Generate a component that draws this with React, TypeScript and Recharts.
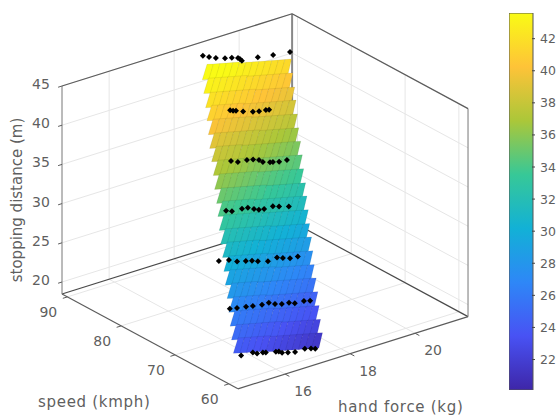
import React from 'react';
import { BarChart, Bar, YAxis, XAxis, ScatterChart, Scatter, ReferenceLine } from 'recharts';

const speedTicks = [60, 70, 80, 90];
const forceTicks = [16, 18, 20];
const zTicks = [20, 25, 30, 35, 40, 45];
const colorbarTicks = [22, 24, 26, 28, 30, 32, 34, 36, 38, 40, 42];
const colorbarRange = [20.1, 43.6];

// box limits
const speedMin = 58.3;
const speedMax = 91;
const forceMin = 14.55;
const forceMax = 21.63;
const zMin = 18.47;
const zMax = 45;

const parula = ['#3e26a8', '#4852f4', '#2e87f7', '#12b1d6', '#37c897', '#abc739', '#fec338', '#f9fb15'];

// surface rows, bottom to top
const rowSpeeds = [61.4, 62.9, 64.3, 65.7, 67.1, 68.6, 70, 71.4, 72.9, 74.3, 75.7, 77.1, 78.6, 80, 81.4, 82.9, 84.3, 85.7, 87.1, 88.6, 90];
const rowForceStart = [15.02, 15.21, 15.4, 15.59, 15.77, 15.96, 16.15, 16.34, 16.53, 16.72, 16.91, 17.1, 17.29, 17.48, 17.66, 17.85, 18.04, 18.23, 18.42, 18.61, 18.8];
const colForceOffset = [0, 0.2, 0.4, 0.6, 0.8, 1, 1.2, 1.4, 1.6, 1.8, 2, 2.2, 2.4];
const surfaceZ = [
  [23.2, 23.0, 22.8, 22.6, 22.4, 22.1, 21.9, 21.7, 21.5, 21.3, 21.1, 20.9, 20.7],
  [24.1, 23.9, 23.7, 23.5, 23.3, 23.1, 22.9, 22.6, 22.4, 22.2, 22.0, 21.8, 21.6],
  [25.1, 24.9, 24.7, 24.5, 24.3, 24.1, 23.8, 23.6, 23.4, 23.2, 23.0, 22.8, 22.6],
  [26.1, 25.9, 25.7, 25.5, 25.3, 25.0, 24.8, 24.6, 24.4, 24.2, 24.0, 23.8, 23.6],
  [27.1, 26.9, 26.7, 26.5, 26.2, 26.0, 25.8, 25.6, 25.4, 25.2, 25.0, 24.8, 24.6],
  [28.0, 27.8, 27.6, 27.4, 27.2, 27.0, 26.8, 26.5, 26.3, 26.1, 25.9, 25.7, 25.5],
  [29.0, 28.8, 28.6, 28.4, 28.2, 28.0, 27.7, 27.5, 27.3, 27.1, 26.9, 26.7, 26.5],
  [30.0, 29.8, 29.6, 29.4, 29.2, 28.9, 28.7, 28.5, 28.3, 28.1, 27.9, 27.7, 27.5],
  [30.9, 30.7, 30.5, 30.3, 30.1, 29.9, 29.7, 29.4, 29.2, 29.0, 28.8, 28.6, 28.4],
  [31.9, 31.7, 31.5, 31.3, 31.1, 30.9, 30.6, 30.4, 30.2, 30.0, 29.8, 29.6, 29.4],
  [32.9, 32.7, 32.5, 32.3, 32.1, 31.8, 31.6, 31.4, 31.2, 31.0, 30.8, 30.6, 30.4],
  [33.8, 33.6, 33.4, 33.2, 33.0, 32.8, 32.6, 32.3, 32.1, 31.9, 31.7, 31.5, 31.3],
  [34.8, 34.6, 34.4, 34.2, 34.0, 33.8, 33.5, 33.3, 33.1, 32.9, 32.7, 32.5, 32.3],
  [35.8, 35.6, 35.4, 35.2, 35.0, 34.7, 34.5, 34.3, 34.1, 33.9, 33.7, 33.5, 33.3],
  [36.8, 36.6, 36.4, 36.2, 35.9, 35.7, 35.5, 35.3, 35.1, 34.9, 34.7, 34.5, 34.3],
  [37.7, 37.5, 37.3, 37.1, 36.9, 36.7, 36.5, 36.2, 36.0, 35.8, 35.6, 35.4, 35.2],
  [38.7, 38.5, 38.3, 38.1, 37.9, 37.7, 37.4, 37.2, 37.0, 36.8, 36.6, 36.4, 36.2],
  [39.7, 39.5, 39.3, 39.1, 38.9, 38.6, 38.4, 38.2, 38.0, 37.8, 37.6, 37.4, 37.2],
  [40.6, 40.4, 40.2, 40.0, 39.8, 39.6, 39.4, 39.1, 38.9, 38.7, 38.5, 38.3, 38.1],
  [41.6, 41.4, 41.2, 41.0, 40.8, 40.6, 40.3, 40.1, 39.9, 39.7, 39.5, 39.3, 39.1],
  [42.6, 42.4, 42.2, 42.0, 41.8, 41.5, 41.3, 41.1, 40.9, 40.7, 40.5, 40.3, 40.1],
];

// measured points: one force list and one distance list per speed
const measuredSpeeds = [60, 65, 70, 75, 80, 85, 90];
const measuredForce = [
  [14.93, 15.29, 15.42, 15.6, 15.69, 16, 16.09, 16.19, 16.37, 16.59, 16.89, 17.08, 17.21],
  [15.41, 15.63, 15.91, 16.12, 16.4, 16.61, 16.8, 17.01, 17.23, 17.41, 17.69, 17.88],
  [15.9, 16.21, 16.46, 16.73, 16.92, 17.1, 17.41, 17.69, 17.87, 18.09, 18.33],
  [16.95, 17.13, 17.44, 17.62, 17.81, 17.96, 18.12, 18.39, 18.58, 18.88],
  [17.93, 18.14, 18.42, 18.61, 18.79, 18.91, 19.13, 19.22, 19.41, 19.65],
  [18.73, 18.82, 18.91, 19.13, 19.43, 19.62, 19.83, 19.93],
  [18.72, 18.91, 19.12, 19.4, 19.61, 19.8, 19.86, 19.92, 20.41, 20.88, 21.4],
];
const measuredDistance = [
  [21.6, 21.5, 21.2, 21.1, 21.0, 20.7, 20.6, 20.3, 20.1, 19.9, 19.9, 19.7, 19.5],
  [25.1, 24.9, 24.7, 24.5, 24.3, 24.3, 23.9, 23.6, 23.5, 23.2, 23.1, 22.9],
  [28.7, 28.4, 27.9, 27.6, 27.4, 27.1, 26.7, 26.8, 26.5, 26.2, 26.1],
  [31.9, 31.6, 31.5, 31.4, 31.0, 30.7, 30.6, 30.6, 30.3, 29.9],
  [35.1, 34.7, 34.6, 34.4, 34.1, 33.7, 33.4, 33.3, 33.1, 33.0],
  [38.7, 38.5, 38.4, 38.0, 37.6, 37.4, 37.3, 37.2],
  [43.8, 43.4, 43.0, 42.6, 42.4, 42.1, 41.9, 41.6, 41.4, 41.1, 40.8],
];

// fixed view of the 3D box
const project = (speed: number, force: number, z: number) => ({
  x: 62 + 5.38 * (speedMax - speed) + 32.5 * (force - forceMin),
  y: 294 + 2.9 * (speedMax - speed) - 10.2 * (force - forceMin) - 7.84 * (z - zMin),
});

const hexToRgb = (h: string) => [1, 3, 5].map(i => parseInt(h.slice(i, i + 2), 16));
const colorFor = (z: number) => {
  const t = Math.min(1, Math.max(0, (z - 19.3) / 22.8)) * (parula.length - 1);
  const i = Math.min(parula.length - 2, Math.floor(t));
  const a = hexToRgb(parula[i]);
  const b = hexToRgb(parula[i + 1]);
  const c = a.map((v, k) => Math.round(v + (b[k] - v) * (t - i)));
  return `rgb(${c[0]},${c[1]},${c[2]})`;
};

const surfaceCells: any[] = [];
for (let r = rowSpeeds.length - 1; r >= 0; r--) {
  colForceOffset.forEach((off, c) => {
    const z = surfaceZ[r][c];
    surfaceCells.push({ ...project(rowSpeeds[r], rowForceStart[r] + off, z), z });
  });
}

const measuredPoints = measuredSpeeds.flatMap((s, i) =>
  measuredForce[i].map((f, j) => project(s, f, measuredDistance[i][j]))
);

const TEXT_COLOR = '#5f5f5f';
const FONT = '"DejaVu Sans", sans-serif';

// cells overlap the next row down so the mesh has no gaps, only the sawtooth at its edges
const Cell = (p: any) => {
  const { cx, cy, payload } = p;
  const pts = [[1.5, 0], [8, -0.4], [4.4, 15], [-3.2, 15.4]].map(([a, b]) => `${cx + a},${cy + b}`).join(' ');
  return <polygon points={pts} fill={colorFor(payload.z)} stroke="rgba(0,0,0,0.14)" strokeWidth={0.5} />;
};

const Diamond = (p: any) => {
  const { cx, cy } = p;
  return <polygon points={`${cx},${cy - 3} ${cx + 3},${cy} ${cx},${cy + 3} ${cx - 3},${cy}`} fill="#000" />;
};

const Label = (p: any) => {
  const { cx, cy, payload } = p;
  return (
    <text x={cx + payload.dx} y={cy + payload.dy} textAnchor="middle" dominantBaseline="central" fontFamily={FONT}
      fontSize={14} fill={TEXT_COLOR}>
      {payload.text}
    </text>
  );
};

const labels = [
  ...speedTicks.map(s => ({ ...project(s, forceMin, zMin), dx: -19, dy: 15, text: String(s) })),
  ...forceTicks.map(f => ({ ...project(speedMin, f, zMin), dx: 18, dy: 17, text: String(f) })),
  ...zTicks.map(z => ({ ...project(speedMax, forceMin, z), dx: -21, dy: -2, text: String(z) })),
];

const Seg = (a: { x: number; y: number }, b: { x: number; y: number }, stroke: string, width: number, key: string) => (
  <ReferenceLine key={key} segment={[a, b]} stroke={stroke} strokeWidth={width} ifOverflow="visible" />
);

const GRID = '#e6e6e6';
const EDGE = '#5c5c5c';

const ColorbarTick = (p: any) => {
  const { x, y, payload } = p;
  return (
    <g>
      <line x1={x - 9} x2={x - 6} y1={y} y2={y} stroke="#444" />
      <text x={x - 1} y={y} dominantBaseline="central" fontFamily={FONT} fontSize={12.5} fill={TEXT_COLOR}>{payload.value}</text>
    </g>
  );
};

export default function App() {
  const sMin = speedMin, sMax = speedMax, fMin = forceMin, fMax = forceMax;
  return (
    <div style={{ position: 'absolute', left: 0, top: 0, width: 557, height: 415, background: '#fff', overflow: 'hidden' }}>
      <div style={{ position: 'absolute', left: 0, top: 0 }}>
        <ScatterChart width={557} height={415} margin={{ top: 0, right: 0, bottom: 0, left: 0 }}>
          <XAxis type="number" dataKey="x" domain={[0, 557]} hide />
          <YAxis type="number" dataKey="y" domain={[0, 415]} reversed hide />

          {/* floor and wall grid */}
          {speedTicks.map(s => Seg(project(s, fMin, zMin), project(s, fMax, zMin), GRID, 1, `fs${s}`))}
          {speedTicks.map(s => Seg(project(s, fMax, zMin), project(s, fMax, zMax), GRID, 1, `ws${s}`))}
          {forceTicks.map(f => Seg(project(sMin, f, zMin), project(sMax, f, zMin), GRID, 1, `ff${f}`))}
          {forceTicks.map(f => Seg(project(sMax, f, zMin), project(sMax, f, zMax), GRID, 1, `wf${f}`))}
          {zTicks.map(z => Seg(project(sMax, fMin, z), project(sMax, fMax, z), GRID, 1, `zl${z}`))}
          {zTicks.map(z => Seg(project(sMax, fMax, z), project(sMin, fMax, z), GRID, 1, `zr${z}`))}

          {/* box edges */}
          {Seg(project(sMax, fMin, zMin), project(sMax, fMax, zMin), '#4a4a4a', 1.2, 'e1')}
          {Seg(project(sMax, fMax, zMin), project(sMin, fMax, zMin), '#4a4a4a', 1.2, 'e2')}
          {Seg(project(sMax, fMin, zMin), project(sMin, fMin, zMin), EDGE, 1.2, 'e3')}
          {Seg(project(sMin, fMin, zMin), project(sMin, fMax, zMin), EDGE, 1.2, 'e4')}
          {Seg(project(sMax, fMin, zMin), project(sMax, fMin, zMax), '#777', 1, 'e5')}
          {Seg(project(sMin, fMax, zMin), project(sMin, fMax, zMax), '#777', 1, 'e6')}
          {Seg(project(sMax, fMax, zMin), project(sMax, fMax, zMax), '#888', 2, 'e7')}
          {Seg(project(sMax, fMin, zMax), project(sMax, fMax, zMax), EDGE, 1.2, 'e8')}
          {Seg(project(sMax, fMax, zMax), project(sMin, fMax, zMax), EDGE, 1.2, 'e9')}

          {/* tick marks */}
          {speedTicks.map(s => Seg(project(s, fMin, zMin), project(s, fMin - 0.14, zMin), EDGE, 1, `ts${s}`))}
          {forceTicks.map(f => Seg(project(sMin, f, zMin), project(sMin - 0.8, f, zMin), EDGE, 1, `tf${f}`))}
          {zTicks.map(z => Seg(project(sMax, fMin, z), project(sMax, fMin - 0.12, z), EDGE, 1, `tz${z}`))}

          <Scatter data={surfaceCells} shape={Cell} isAnimationActive={false} />
          <Scatter data={measuredPoints} shape={Diamond} isAnimationActive={false} />
          <Scatter data={labels} shape={Label} isAnimationActive={false} />
        </ScatterChart>
      </div>

      <div style={{ position: 'absolute', left: 38, top: 393, fontFamily: FONT, fontSize: 15, letterSpacing: 0.7, color: TEXT_COLOR, whiteSpace: 'nowrap' }}>speed (kmph)</div>
      <div style={{ position: 'absolute', left: 338, top: 398, fontFamily: FONT, fontSize: 15, letterSpacing: 0.7, color: TEXT_COLOR, whiteSpace: 'nowrap' }}>hand force (kg)</div>
      <div style={{ position: 'absolute', left: 17, top: 200, fontFamily: FONT, fontSize: 15, color: TEXT_COLOR, whiteSpace: 'nowrap', transform: 'translate(-50%,-50%) rotate(-90deg)' }}>stopping distance (m)</div>

      <div style={{ position: 'absolute', left: 509, top: 13 }}>
        <BarChart width={48} height={377} data={[{ name: 'z', v: colorbarRange }]} margin={{ top: 0, right: 0, bottom: 0, left: 0 }} barCategoryGap={0}>
          <defs>
            <linearGradient id="parulaGrad" x1="0" y1="1" x2="0" y2="0">
              {parula.map((c, i) => <stop key={c} offset={i / (parula.length - 1)} stopColor={c} />)}
            </linearGradient>
          </defs>
          <XAxis dataKey="name" hide />
          <YAxis orientation="right" width={24} domain={colorbarRange} ticks={colorbarTicks} tick={ColorbarTick} tickLine={false} axisLine={false} interval={0} />
          <Bar dataKey="v" fill="url(#parulaGrad)" stroke="#555" strokeWidth={1} isAnimationActive={false} />
        </BarChart>
      </div>
    </div>
  );
}
